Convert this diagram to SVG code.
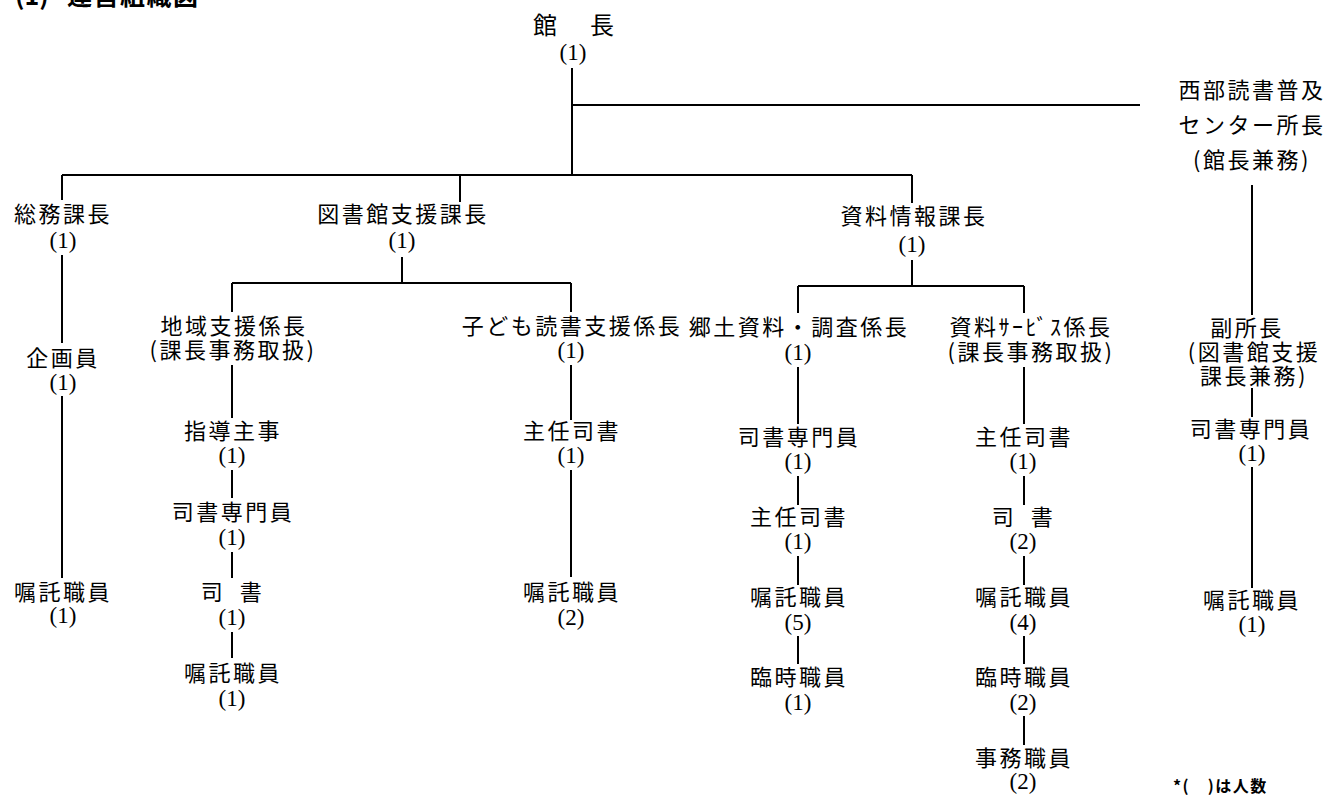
<svg xmlns="http://www.w3.org/2000/svg" width="1332" height="795" viewBox="0 0 1332 795">
<style>
.l{font-family:"Noto Sans CJK JP","Noto Sans CJK SC",sans-serif;font-size:22px;letter-spacing:2.5px;text-anchor:middle;fill:#000}
.n{font-family:"Liberation Serif","Noto Sans CJK JP",serif;font-size:23px;letter-spacing:0;text-anchor:middle;fill:#000}
.t{font-family:"Noto Sans CJK JP","Noto Sans CJK SC",sans-serif;font-weight:bold;fill:#000}
.s{letter-spacing:-2.5px}
#connectors path{stroke:#000;stroke-width:2;fill:none}
</style>
<rect width="1332" height="795" fill="#fff"/>
<text class="t" font-size="25" y="5"><tspan x="15">(1)</tspan><tspan x="67" letter-spacing="1.5">運営組織図</tspan></text>
<g id="connectors">
<path d="M572 68V175M572 105H1140M62 175H912M62 175V200M460 175V202M912 175V203"/>
<path d="M62 255V343M62 396V578"/>
<path d="M402 257V283M232 283H571M232 283V312M571 283V312"/>
<path d="M232 365V418M232 470V498M232 552V578M232 632V658"/>
<path d="M571 365V420M571 470V577"/>
<path d="M912 260V286M798 286H1024M798 286V313M1024 286V313"/>
<path d="M798 367V424M798 476V505M798 556V585M798 636V664"/>
<path d="M1024 367V424M1024 476V505M1024 556V585M1024 636V664M1024 716V745"/>
<path d="M1252 185V315M1252 388V417M1252 467V588"/>
</g>
<g id="kancho">
<text class="l" style="font-size:24px;text-anchor:start;letter-spacing:0" y="34"><tspan x="533">館</tspan><tspan x="590">長</tspan><tspan class="n" x="573" y="59.5">(1)</tspan></text>
</g>
<g id="seibu">
<text class="l"><tspan x="1252" y="98">西部読書普及</tspan><tspan x="1252" y="133">センター所長</tspan><tspan x="1252" y="168">(館長兼務)</tspan></text>
</g>
<g id="somu">
<text class="l"><tspan x="63" y="222">総務課長</tspan><tspan class="n" x="63" y="247.5">(1)</tspan></text>
</g>
<g id="somu-kikaku">
<text class="l"><tspan x="63" y="366">企画員</tspan><tspan class="n" x="63" y="389.5">(1)</tspan></text>
</g>
<g id="somu-shokutaku">
<text class="l"><tspan x="63" y="600">嘱託職員</tspan><tspan class="n" x="63" y="622.5">(1)</tspan></text>
</g>
<g id="toshokan-shien">
<text class="l"><tspan x="403" y="222">図書館支援課長</tspan><tspan class="n" x="402" y="247.5">(1)</tspan></text>
</g>
<g id="chiiki">
<text class="l"><tspan x="234" y="334">地域支援係長</tspan><tspan x="233" y="358">(課長事務取扱)</tspan></text>
</g>
<g id="chiiki-shido">
<text class="l"><tspan x="233" y="439">指導主事</tspan><tspan class="n" x="232" y="462.5">(1)</tspan></text>
</g>
<g id="chiiki-senmon">
<text class="l"><tspan x="233" y="520">司書専門員</tspan><tspan class="n" x="232" y="544.5">(1)</tspan></text>
</g>
<g id="chiiki-shisho">
<text class="l"><tspan class="s" x="230" y="600">司　書</tspan><tspan class="n" x="232" y="624.5">(1)</tspan></text>
</g>
<g id="chiiki-shokutaku">
<text class="l"><tspan x="233" y="681">嘱託職員</tspan><tspan class="n" x="232" y="705.5">(1)</tspan></text>
</g>
<g id="kodomo">
<text class="l"><tspan x="572" y="334">子ども読書支援係長</tspan><tspan class="n" x="571" y="357.5">(1)</tspan></text>
</g>
<g id="kodomo-shunin">
<text class="l"><tspan x="572" y="439">主任司書</tspan><tspan class="n" x="571" y="462.5">(1)</tspan></text>
</g>
<g id="kodomo-shokutaku">
<text class="l"><tspan x="572" y="600">嘱託職員</tspan><tspan class="n" x="571" y="624.5">(2)</tspan></text>
</g>
<g id="shiryo-joho">
<text class="l"><tspan x="914" y="224">資料情報課長</tspan><tspan class="n" x="912" y="251.5">(1)</tspan></text>
</g>
<g id="kyodo">
<text class="l"><tspan x="799" y="335">郷土資料・調査係長</tspan><tspan class="n" x="798" y="359.5">(1)</tspan></text>
</g>
<g id="kyodo-senmon">
<text class="l"><tspan x="799" y="445">司書専門員</tspan><tspan class="n" x="798" y="468.5">(1)</tspan></text>
</g>
<g id="kyodo-shunin">
<text class="l"><tspan x="799" y="525">主任司書</tspan><tspan class="n" x="798" y="548.5">(1)</tspan></text>
</g>
<g id="kyodo-shokutaku">
<text class="l"><tspan x="799" y="605">嘱託職員</tspan><tspan class="n" x="798" y="629.5">(5)</tspan></text>
</g>
<g id="kyodo-rinji">
<text class="l"><tspan x="799" y="685">臨時職員</tspan><tspan class="n" x="798" y="709.5">(1)</tspan></text>
</g>
<g id="service">
<text class="l"><tspan x="1031" y="335">資料ｻｰﾋﾞｽ係長</tspan><tspan x="1031" y="360">(課長事務取扱)</tspan></text>
</g>
<g id="service-shunin">
<text class="l"><tspan x="1024" y="445">主任司書</tspan><tspan class="n" x="1023" y="468.5">(1)</tspan></text>
</g>
<g id="service-shisho">
<text class="l"><tspan class="s" x="1021" y="525">司　書</tspan><tspan class="n" x="1023" y="548.5">(2)</tspan></text>
</g>
<g id="service-shokutaku">
<text class="l"><tspan x="1024" y="605">嘱託職員</tspan><tspan class="n" x="1023" y="629.5">(4)</tspan></text>
</g>
<g id="service-rinji">
<text class="l"><tspan x="1024" y="685">臨時職員</tspan><tspan class="n" x="1023" y="709.5">(2)</tspan></text>
</g>
<g id="service-jimu">
<text class="l"><tspan x="1024" y="766">事務職員</tspan><tspan class="n" x="1023" y="788.5">(2)</tspan></text>
</g>
<g id="fukushocho">
<text class="l"><tspan x="1247" y="336">副所長</tspan><tspan x="1254" y="360">(図書館支援</tspan><tspan x="1254" y="384">課長兼務)</tspan></text>
</g>
<g id="seibu-senmon">
<text class="l"><tspan x="1251" y="437">司書専門員</tspan><tspan class="n" x="1252" y="460.5">(1)</tspan></text>
</g>
<g id="seibu-shokutaku">
<text class="l"><tspan x="1252" y="608">嘱託職員</tspan><tspan class="n" x="1252" y="631.5">(1)</tspan></text>
</g>
<text class="t" font-size="16" x="1173" y="792" letter-spacing="1.5">*(　)は人数</text>
</svg>
